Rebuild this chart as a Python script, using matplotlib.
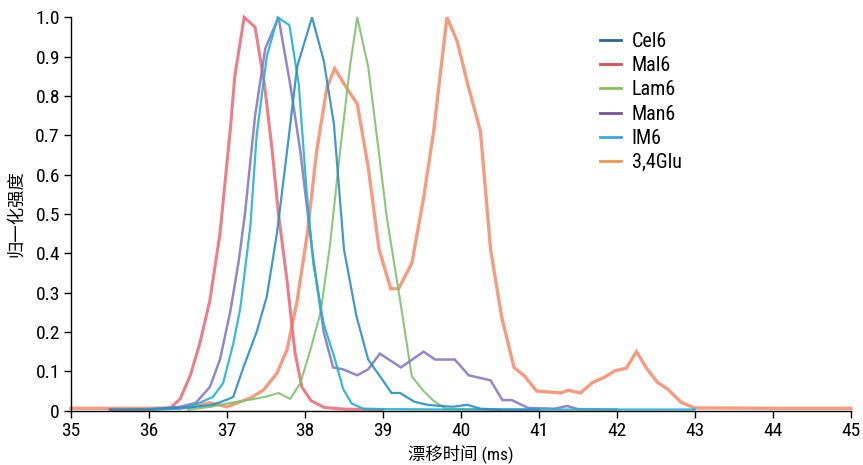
import matplotlib
matplotlib.use("Agg")
import matplotlib.pyplot as plt
from matplotlib import font_manager
from matplotlib.lines import Line2D

# condensed face for latin text, CJK face for the axis titles
installed = set(f.name for f in font_manager.fontManager.ttflist)
latin = 'DejaVu Sans'
for cand in ['Roboto Condensed', 'Archivo Narrow', 'PT Sans Narrow', 'Fira Sans Condensed',
             'IBM Plex Sans Condensed', 'Barlow Semi Condensed', 'Liberation Sans Narrow']:
    if cand in installed:
        latin = cand
        break
plt.rcParams['font.family'] = [latin, 'Noto Sans CJK SC']
if latin == 'DejaVu Sans':
    plt.rcParams['font.stretch'] = 'condensed'

# drift time (ms) / normalised intensity
cel6_x = [35.5, 36.0, 36.5, 36.82, 37.0, 37.08, 37.21, 37.38, 37.51, 37.64, 37.77, 37.9, 38.09,
          38.24, 38.37, 38.5, 38.66, 38.81, 38.97, 39.11, 39.22, 39.4, 39.57, 39.74, 39.9, 40.08,
          40.25, 40.5, 41.0]
cel6_y = [0.003, 0.004, 0.008, 0.015, 0.028, 0.035, 0.11, 0.2, 0.29, 0.45, 0.66, 0.875, 1.0,
          0.89, 0.73, 0.41, 0.24, 0.13, 0.085, 0.045, 0.045, 0.023, 0.015, 0.012, 0.01, 0.015,
          0.005, 0.003, 0.003]

mal6_x = [35.5, 36.0, 36.27, 36.4, 36.53, 36.65, 36.78, 36.91, 37.04, 37.1, 37.22, 37.36, 37.48,
          37.58, 37.66, 37.77, 37.87, 37.96, 38.08, 38.25, 38.5, 39.0]
mal6_y = [0.003, 0.003, 0.006, 0.03, 0.09, 0.17, 0.28, 0.45, 0.71, 0.85, 1.0, 0.975, 0.83,
          0.66, 0.5, 0.33, 0.15, 0.06, 0.025, 0.008, 0.004, 0.003]

lam6_x = [36.5, 36.8, 37.04, 37.3, 37.51, 37.66, 37.81, 37.94, 38.07, 38.2, 38.32, 38.45, 38.58,
          38.67, 38.81, 38.92, 39.05, 39.22, 39.37, 39.52, 39.65, 39.8, 40.5]
lam6_y = [0.003, 0.01, 0.02, 0.028, 0.036, 0.045, 0.03, 0.07, 0.155, 0.25, 0.42, 0.66, 0.88,
          1.0, 0.875, 0.7, 0.49, 0.28, 0.087, 0.05, 0.025, 0.005, 0.003]

man6_x = [36.0, 36.4, 36.6, 36.78, 36.91, 37.04, 37.15, 37.23, 37.36, 37.49, 37.66, 37.81, 37.94,
          38.09, 38.24, 38.36, 38.49, 38.67, 38.81, 38.96, 39.23, 39.52, 39.67, 39.92, 40.1,
          40.38, 40.53, 40.65, 40.86, 41.2, 41.36, 41.5, 42.0]
man6_y = [0.003, 0.01, 0.02, 0.06, 0.13, 0.25, 0.38, 0.5, 0.75, 0.92, 1.0, 0.83, 0.66,
          0.41, 0.2, 0.11, 0.105, 0.09, 0.105, 0.145, 0.11, 0.15, 0.13, 0.13, 0.09,
          0.077, 0.027, 0.027, 0.007, 0.005, 0.012, 0.004, 0.003]

im6_x = [36.0, 36.4, 36.65, 36.82, 36.95, 37.08, 37.17, 37.3, 37.38, 37.51, 37.65, 37.8, 37.92,
         38.02, 38.11, 38.24, 38.37, 38.49, 38.6, 38.75, 39.0, 40.0, 41.0, 42.0, 43.0]
im6_y = [0.003, 0.005, 0.02, 0.035, 0.07, 0.17, 0.26, 0.47, 0.7, 0.9, 1.0, 0.98, 0.83,
         0.56, 0.37, 0.22, 0.14, 0.055, 0.018, 0.005, 0.004, 0.003, 0.003, 0.003, 0.003]

glu_x = [35.0, 36.0, 36.5, 36.78, 37.0, 37.3, 37.47, 37.64, 37.77, 37.9, 38.03, 38.15, 38.28,
         38.38, 38.52, 38.67, 38.81, 38.95, 39.1, 39.2, 39.37, 39.52, 39.65, 39.82, 39.95, 40.1,
         40.25, 40.38, 40.52, 40.68, 40.82, 40.97, 41.1, 41.28, 41.38, 41.53, 41.69, 41.84,
         41.98, 42.12, 42.25, 42.39, 42.52, 42.65, 42.82, 42.99, 44.0, 45.0]
glu_y = [0.006, 0.006, 0.008, 0.02, 0.01, 0.032, 0.053, 0.095, 0.155, 0.28, 0.45, 0.66, 0.82,
         0.87, 0.825, 0.78, 0.62, 0.41, 0.31, 0.31, 0.375, 0.54, 0.71, 1.0, 0.94, 0.82,
         0.71, 0.41, 0.24, 0.11, 0.087, 0.05, 0.048, 0.045, 0.052, 0.045, 0.072, 0.085,
         0.102, 0.108, 0.15, 0.105, 0.072, 0.055, 0.022, 0.007, 0.006, 0.006]

names = ['Cel6', 'Mal6', 'Lam6', 'Man6', 'IM6', '3,4Glu']
legend_colors = ['#2a6597', '#d34f4a', '#86c45c', '#7a4f9c', '#33a8de', '#f3924e']
line_colors = ['#2a8fc6', '#ec6f7b', '#7cc26a', '#8a78c4', '#1eb4d2', '#f69070']
widths = [1.6, 2.2, 1.5, 1.8, 1.6, 2.4]
series = [(cel6_x, cel6_y), (mal6_x, mal6_y), (lam6_x, lam6_y),
          (man6_x, man6_y), (im6_x, im6_y), (glu_x, glu_y)]

fig = plt.figure(figsize=(8.63, 4.65), dpi=100)
ax = fig.add_axes([0.0823, 0.1168, 0.9037, 0.846])

order = [5, 1, 2, 3, 4, 0]
for i in order:
    xs, ys = series[i]
    ax.plot(xs, ys, color=line_colors[i], lw=widths[i], alpha=0.9, clip_on=False,
            solid_joinstyle='miter')

ax.set_xlim(35, 45)
ax.set_ylim(0, 1.0)
ax.set_xticks(range(35, 46))
ax.set_yticks([0, 0.1, 0.2, 0.3, 0.4, 0.5, 0.6, 0.7, 0.8, 0.9, 1.0])
ax.set_yticklabels(['0', '0.1', '0.2', '0.3', '0.4', '0.5', '0.6', '0.7', '0.8', '0.9', '1.0'])
for s in ['top', 'right']:
    ax.spines[s].set_visible(False)
for s in ['left', 'bottom']:
    ax.spines[s].set_linewidth(1.0)
ax.tick_params(direction='out', length=5, width=1, labelsize=14, pad=3)

ax.set_xlabel('漂移时间 (ms)', fontsize=12.5, labelpad=3)
ax.set_ylabel('归一化强度', fontsize=12.5, labelpad=8)

handles = [Line2D([0], [0], color=c, lw=2) for c in legend_colors]
fig.legend(handles, names, loc='upper left', bbox_to_anchor=(0.684, 0.953),
           frameon=False, fontsize=14.5, handlelength=1.0, handletextpad=0.55,
           labelspacing=0.26, borderpad=0)

fig.savefig('out.png', dpi=100)
